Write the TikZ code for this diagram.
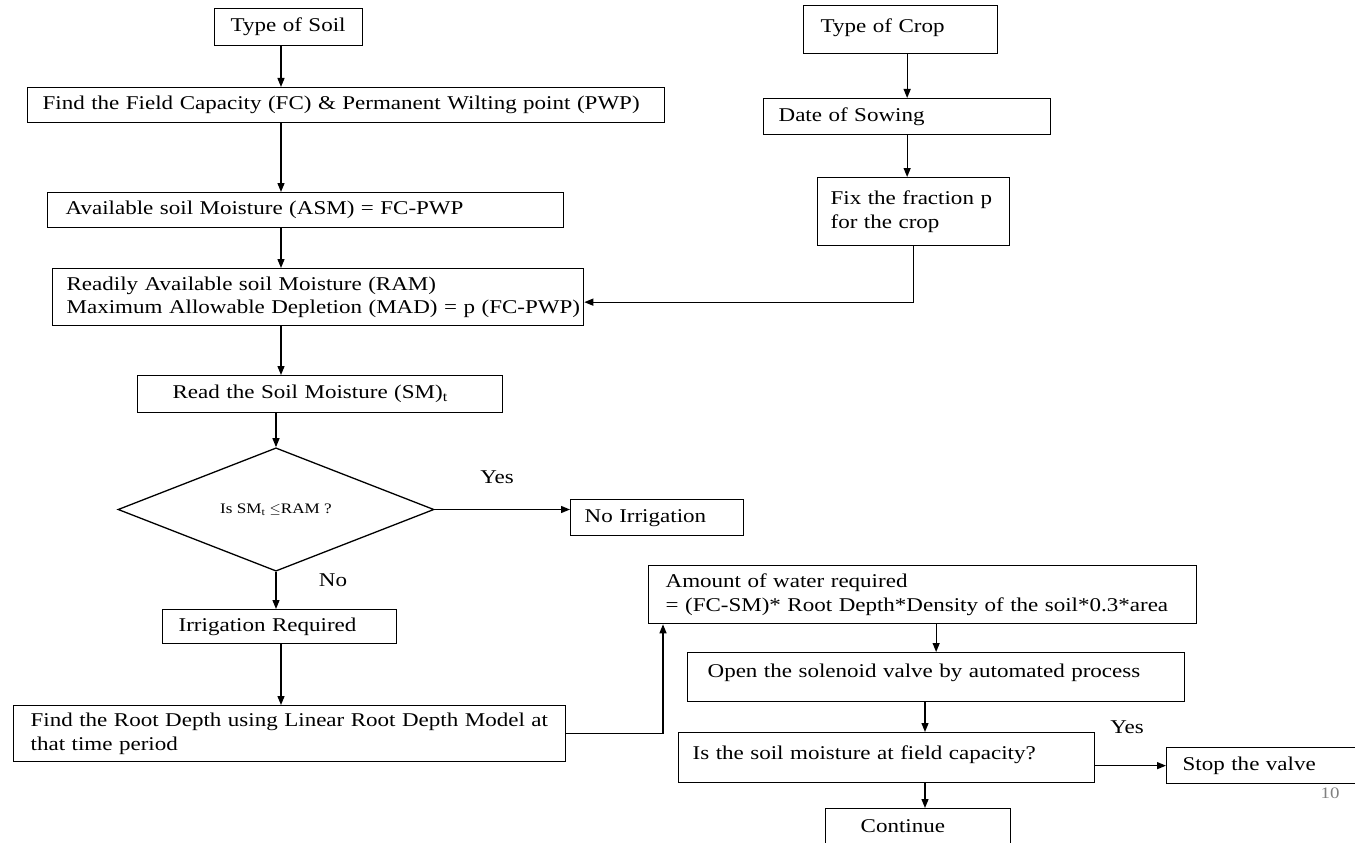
\documentclass[tikz,border=0pt]{standalone}
\usepackage{fontspec}
\setmainfont{Liberation Serif}[FakeStretch=1.18]
\usetikzlibrary{shapes, arrows.meta, positioning}

\tikzset{
  box/.style n args={3}{draw, line width=1.3pt, anchor=north west, inner xsep=0pt, inner ysep=2pt,
    align=left, text width=#1, minimum height=#2, execute at begin node={\leftskip=#3\relax}},
  dec/.style={draw, diamond, line width=1.3pt, minimum width=316pt, minimum height=105pt, inner sep=0pt,
    font=\fontsize{14.5}{17}\selectfont},
  line/.style={draw, line width=1.3pt, -{Triangle[length=9pt,width=7pt]}},
  lbl/.style={inner sep=0pt}
}

\begin{document}
\begin{tikzpicture}[x=1pt, y=-1pt, every node/.style={font=\fontsize{19.5}{23.5}\selectfont}]
    \useasboundingbox (0,0) rectangle (1355,843);
    \coordinate (trunk) at (281,0);
    \coordinate (rtrunk) at (925,0);

    % soil side
    \node[box={148pt}{37pt}{16pt}] (soil) at (214,8) {Type of Soil};
    \node[box={637pt}{35pt}{15pt}] (fc) at (27,87) {\mbox{Find the Field Capacity (FC) \& Permanent Wilting point (PWP)}};
    \node[box={516pt}{35pt}{18pt}] (asm) at (47,192) {Available soil Moisture (ASM) = FC-PWP};
    \node[box={531pt}{57pt}{14pt}] (ram) at (52,268) {\mbox{Readily Available soil Moisture (RAM)}\\\mbox{Maximum Allowable Depletion (MAD) = p (FC-PWP)}};
    \node[box={365pt}{37pt}{35pt}] (read) at (137,375) {Read the Soil Moisture (SM)\textsubscript{t}};
    \node[dec] (dec) at (276,509.5) {Is SM\textsubscript{t} $\leq$RAM ?};
    \node[box={173pt}{36pt}{14pt}] (noirr) at (570,499) {No Irrigation};
    \node[box={234pt}{34pt}{16pt}] (irr) at (162,609) {Irrigation Required};
    \node[box={552pt}{56pt}{17pt}] (root) at (13,705) {\mbox{Find the Root Depth using Linear Root Depth Model at}\\that time period};

    % crop side
    \node[box={194pt}{48pt}{17pt}, text depth=8pt] (crop) at (803,5) {Type of Crop};
    \node[box={287pt}{36pt}{15pt}] (date) at (763,98) {Date of Sowing};
    \node[box={192pt}{68pt}{13pt}] (fix) at (817,177) {Fix the fraction p\\for the crop};

    % valve part
    \node[box={548pt}{58pt}{17pt}] (amount) at (648,565) {Amount of water required\\\mbox{= (FC-SM)* Root Depth*Density of the soil*0.3*area}};
    \node[box={497pt}{49pt}{20pt}, text depth=12pt] (open) at (687,652) {Open the solenoid valve by automated process};
    \node[box={416pt}{50pt}{14pt}, text depth=10pt] (ismoist) at (678,732) {Is the soil moisture at field capacity?};
    \node[box={200pt}{36pt}{16pt}] (stop) at (1166,747) {Stop the valve};
    \node[box={185pt}{50pt}{35pt}, text depth=16pt] (cont) at (825,808) {Continue};

    \node[lbl] (yes1) at (497,477) {Yes};
    \node[lbl] (no1) at (333,580) {No};
    \node[lbl] (yes2) at (1127,727) {Yes};
    \node[text=gray, font=\fontsize{16}{18}\selectfont] (pnum) at (1330,793) {10};

    \draw[line] (soil.south -| trunk) -- (fc.north -| trunk);
    \draw[line] (fc.south -| trunk) -- (asm.north -| trunk);
    \draw[line] (asm.south -| trunk) -- (ram.north -| trunk);
    \draw[line] (ram.south -| trunk) -- (read.north -| trunk);
    \draw[line] (read.south -| dec.north) -- (dec.north);
    \draw[line] (dec.south) -- (irr.north -| dec.south);
    \draw[line] (irr.south -| trunk) -- (root.north -| trunk);
    \draw[line] (dec.east) -- (dec.east -| noirr.west);

    \draw[line] (crop.south -| date.north) -- (date.north);
    \draw[line] (date.south) -- (date.south |- fix.north);
    \draw[line] (fix.south) |- ([yshift=-5pt]ram.east);

    \draw[line] (root.east) -| ([xshift=15pt]amount.south west);
    \draw[line] (amount.south -| open.north) -- (open.north);
    \draw[line] (open.south -| rtrunk) -- (ismoist.north -| rtrunk);
    \draw[line] (ismoist.south -| rtrunk) -- (cont.north -| rtrunk);
    \draw[line] (ismoist.east |- stop.west) -- (stop.west);
\end{tikzpicture}
\end{document}
